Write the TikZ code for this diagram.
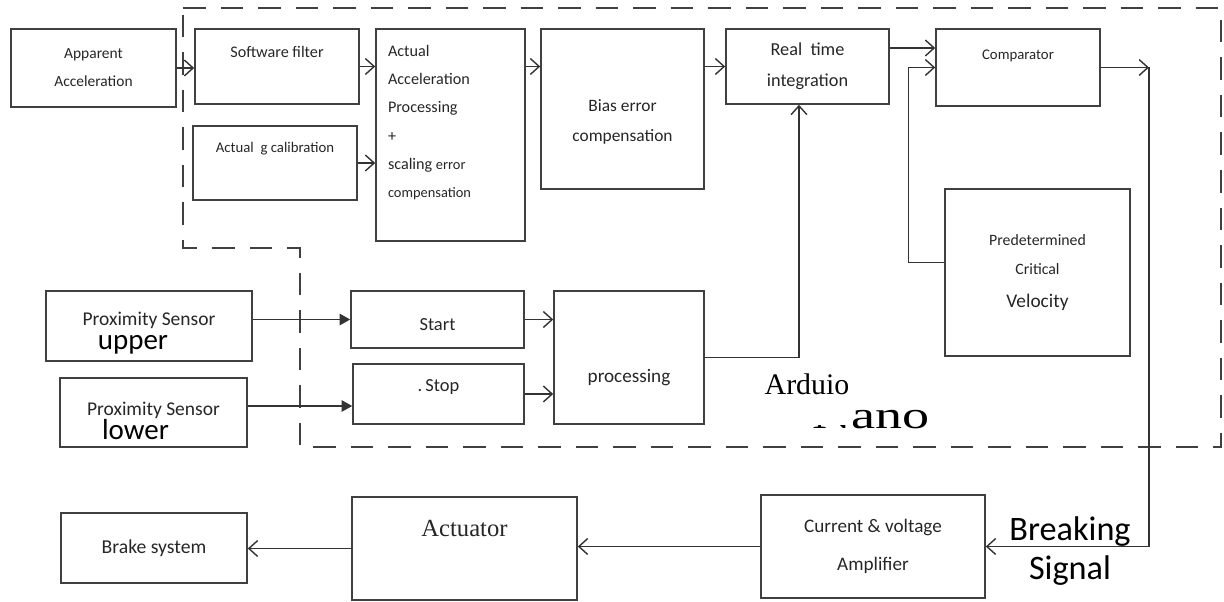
\documentclass[tikz,border=0pt]{standalone}
\usepackage{fontspec}
\setmainfont{Carlito}
\newfontfamily\serifrm{Liberation Serif}
\usetikzlibrary{arrows.meta, positioning}
\newcommand{\fsz}[2]{\fontsize{#1}{#2}\selectfont}
\tikzset{
  blk/.style 2 args={draw=black!75, line width=0.9pt, minimum width=#1cm,
                     minimum height=#2cm, inner sep=0pt, align=center, text=black!85},
  arr/.style={-{Straight Barb[length=5pt,width=9pt]}, line width=0.8pt, black!80},
  farr/.style={-{Triangle[length=6pt,width=6.5pt]}, line width=0.8pt, black!80},
  zone/.style={dash pattern=on 0.45cm off 0.3cm, line width=0.9pt, black!75},
  every label/.style={align=center, text=black!85, inner sep=0pt},
}
\begin{document}
\begin{tikzpicture}
  \useasboundingbox (0,0) rectangle (24.48,-12.04);
  % Arduino board
  \draw[zone] (3.66,-0.16) -- (24.42,-0.16) -- (24.42,-8.94) -- (6.0,-8.94)
              -- (6.0,-4.96) -- (3.66,-4.96) -- cycle;

  % acceleration chain
  \node[blk={3.30}{1.56}, font=\fsz{8.8}{15.9}] (app) at (1.87,-1.36) {Apparent\\Acceleration};
  \node[blk={3.28}{1.50}, label={[font=\fsz{9.2}{11}, yshift=0.29cm]center:Software filter}] (sw) at (5.54,-1.33) {};
  \node[blk={3.28}{1.48}, label={[font=\fsz{8.4}{10}, yshift=0.28cm]center:Actual\ \ g calibration}] (gcal) at (5.50,-3.26) {};
  \node[blk={2.98}{4.24}, label={[font=\fsz{9.2}{16}, align=left, xshift=-0.42cm, yshift=0.25cm]center:Actual\\Acceleration\\Processing\\+\\scaling {\fsz{8.2}{16}error}\\{\fsz{8.2}{16}compensation}}] (act) at (9.01,-2.70) {};
  \node[blk={3.26}{3.20}, label={[font=\fsz{9.9}{17}, yshift=-0.26cm]center:Bias error\\compensation}] (bias) at (12.45,-2.18) {};
  \node[blk={3.26}{1.50}, font=\fsz{10.4}{17.6}] (real) at (16.15,-1.33) {Real\ \ time\\integration};
  \node[blk={3.28}{1.54}, label={[font=\fsz{8.4}{10}, yshift=0.23cm]center:Comparator}] (comp) at (20.36,-1.35) {};
  \node[blk={3.70}{3.34}, font=\fsz{9}{16.4}] (pred) at (20.75,-5.45) {Predetermined\\Critical\\[2pt]{\fsz{11}{16.4}Velocity}};

  % start / stop sensing
  \node[blk={4.12}{1.40}, label={[font=\fsz{11.1}{14}, yshift=-0.14cm]center:Proximity Sensor\\{\fsz{16.5}{14}\color{black}upper}\hspace*{0.64cm}}] (pu) at (2.98,-6.52) {};
  \node[blk={3.74}{1.38}, label={[font=\fsz{11.1}{14}, yshift=-0.17cm]center:Proximity Sensor\\{\fsz{16.5}{14}\color{black}lower}\hspace*{0.72cm}}] (pl) at (3.07,-8.25) {};
  \node[blk={3.46}{1.14}, label={[font=\fsz{10.5}{12}, yshift=-0.11cm]center:Start}] (start) at (8.75,-6.39) {};
  \node[blk={3.42}{1.20}, label={[font=\fsz{10.5}{12}, yshift=0.14cm]center:.\,Stop}] (stop) at (8.77,-7.88) {};
  \node[blk={3.00}{2.66}, label={[font=\fsz{10.9}{12}, yshift=-0.41cm]center:processing}] (proc) at (12.58,-7.15) {};

  % output side
  \node[blk={3.72}{1.40}, font=\fsz{11.2}{13}] (brake) at (3.08,-10.96) {Brake system};
  \node[blk={4.50}{2.06}, label={[font=\serifrm\fsz{14}{16}, yshift=0.41cm]center:Actuator}] (actu) at (9.29,-10.97) {};
  \node[blk={4.48}{2.06}, font=\fsz{10.9}{21.5}] (amp) at (17.46,-10.93) {Current \& voltage\\Amplifier};

  \coordinate (turn) at (22.98,-1.35);

  \draw[arr] (app.east) -- (app.east -| sw.west);
  \draw[arr] (sw.east) -- (sw.east -| act.west);
  \draw[arr] (gcal.east) -- (gcal.east -| act.west);
  \draw[arr] (real.west -| act.east) -- (real.west -| bias.west);
  \draw[arr] (real.west -| bias.east) -- (real.west);
  \draw[arr] ([yshift=0.37cm]real.east) -- ([yshift=0.37cm]real.east -| comp.west);
  \draw[arr] ([yshift=0.2cm]pred.west) -- ++(-0.72,0) |- (comp.west);
  \draw[arr] (comp.east) -- (turn);
  \draw[arr] (turn) |- (amp.east);
  \draw[arr] (amp.west) -- (amp.west -| actu.east);
  \draw[arr] (actu.west) -- (actu.west -| brake.east);
  \draw[farr] (start.west -| pu.east) -- (start.west);
  \draw[farr] ([yshift=0.13cm]pl.east) -- ([yshift=0.13cm]pl.east -| stop.west);
  \draw[arr] (start.east) -- (start.east -| proc.west);
  \draw[arr] (stop.east) -- (stop.east -| proc.west);
  \draw[arr] (proc.east) -| ([xshift=-0.17cm]real.south);

  % loose texts
  \node[font=\fsz{19.5}{22}, align=center] (sig) at (21.4,-11.02) {Breaking\\Signal};
  \node[font=\serifrm\fsz{17}{20}, inner sep=0pt] (ard) at (16.14,-7.68) {Arduio};
  \begin{scope}
    \clip (16.0,-8.5) rectangle (16.98,-8.9) (16.98,-8.1) rectangle (18.9,-8.9);
    \node[font=\serifrm\fsz{22}{24}, anchor=base east, inner sep=0pt] (nano) at (18.6,-8.56) {\scalebox{1.4}[1]{Nano}};
  \end{scope}
\end{tikzpicture}
\end{document}
